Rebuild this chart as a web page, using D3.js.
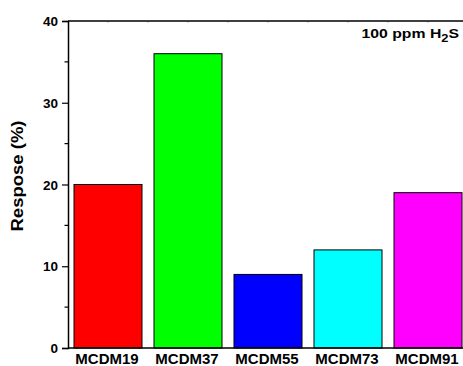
<!DOCTYPE html>
<html>
<head>
<meta charset="utf-8">
<script src="https://cdn.jsdelivr.net/npm/d3@7"></script>
<style>
  html, body { margin: 0; padding: 0; background: #fff; }
  svg { display: block; }
  text { font-family: "Liberation Sans", Arial, sans-serif; font-weight: bold; fill: #000; }
</style>
</head>
<body>
<script>
// Sensor response of each sample to 100 ppm H2S
const categories = ["MCDM19", "MCDM37", "MCDM55", "MCDM73", "MCDM91"];
const responses = [20, 36, 9, 12, 19];
const barColors = ["#ff0000", "#00ff00", "#0000ff", "#00ffff", "#ff00ff"];
const yTicks = [0, 10, 20, 30, 40];
const yMinorTicks = [5, 15, 25, 35];

const W = 463, H = 366;
const plotLeft = 68, plotTop = 21, plotBottom = 348;

const svg = d3.select("body").append("svg")
  .attr("width", W).attr("height", H);

// Categories sit at positions 1..5 on a linear axis
const x = d3.scaleLinear().domain([0.5, 5.5]).range([plotLeft, plotLeft + 400]);
const y = d3.scaleLinear().domain([0, 40]).range([plotBottom, plotTop]);
const barW = x(1.85) - x(1);

// Bars
svg.append("g").selectAll("rect")
  .data(categories)
  .join("rect")
  .attr("x", (d, i) => x(i + 1) - barW / 2)
  .attr("y", (d, i) => y(responses[i]))
  .attr("width", barW)
  .attr("height", (d, i) => y(0) - y(responses[i]))
  .attr("fill", (d, i) => barColors[i])
  .attr("stroke", "#000")
  .attr("stroke-width", 1);

// Faint top-axis ticks at half-category steps
const topTicks = d3.range(0.5, 5.51, 0.5);
svg.append("g").selectAll("line")
  .data(topTicks)
  .join("line")
  .attr("x1", d => x(d)).attr("x2", d => x(d))
  .attr("y1", plotTop).attr("y2", plotTop + 2)
  .attr("stroke", "#bbb").attr("stroke-width", 1);

// Top and bottom frame lines
svg.append("line")
  .attr("x1", plotLeft).attr("x2", W).attr("y1", plotTop).attr("y2", plotTop)
  .attr("stroke", "#000").attr("stroke-width", 1.5);
svg.append("line")
  .attr("x1", plotLeft).attr("x2", W).attr("y1", plotBottom).attr("y2", plotBottom)
  .attr("stroke", "#000").attr("stroke-width", 1.5);

// Left axis
const yAxis = d3.axisLeft(y).tickValues(yTicks).tickSize(6).tickPadding(4).tickFormat(d3.format("d"));
const gy = svg.append("g").attr("transform", `translate(${plotLeft},0)`).call(yAxis);
gy.select(".domain").attr("stroke", "#000").attr("stroke-width", 1.5);
gy.selectAll(".tick line").attr("stroke", "#000").attr("stroke-width", 1.2);
gy.selectAll(".tick text")
  .style("font-family", "'Liberation Sans', Arial, sans-serif")
  .style("font-weight", "bold")
  .style("font-size", "13.5px")
  .attr("dy", "0.35em")
  .attr("fill", "#000");

svg.append("g").selectAll("line")
  .data(yMinorTicks)
  .join("line")
  .attr("x1", plotLeft - 3.5).attr("x2", plotLeft)
  .attr("y1", d => y(d)).attr("y2", d => y(d))
  .attr("stroke", "#000").attr("stroke-width", 1.2);

// Category labels
svg.append("g").selectAll("text")
  .data(categories)
  .join("text")
  .attr("x", (d, i) => x(i + 1) - 1)
  .attr("y", 364)
  .attr("text-anchor", "middle")
  .style("font-size", "15px")
  .text(d => d);

// Y-axis title
svg.append("text")
  .attr("transform", "translate(23,176) rotate(-90)")
  .attr("text-anchor", "middle")
  .attr("textLength", 111)
  .attr("lengthAdjust", "spacingAndGlyphs")
  .style("font-size", "16px")
  .text("Respose (%)");

// Gas label, slightly widened
const gas = svg.append("text")
  .attr("transform", "translate(459,38) scale(1.17,1)")
  .attr("text-anchor", "end")
  .style("font-size", "13.5px");
gas.append("tspan").text("100 ppm H");
gas.append("tspan").attr("dy", 4).style("font-size", "11px").text("2");
gas.append("tspan").attr("dy", -4).text("S");
</script>
</body>
</html>
